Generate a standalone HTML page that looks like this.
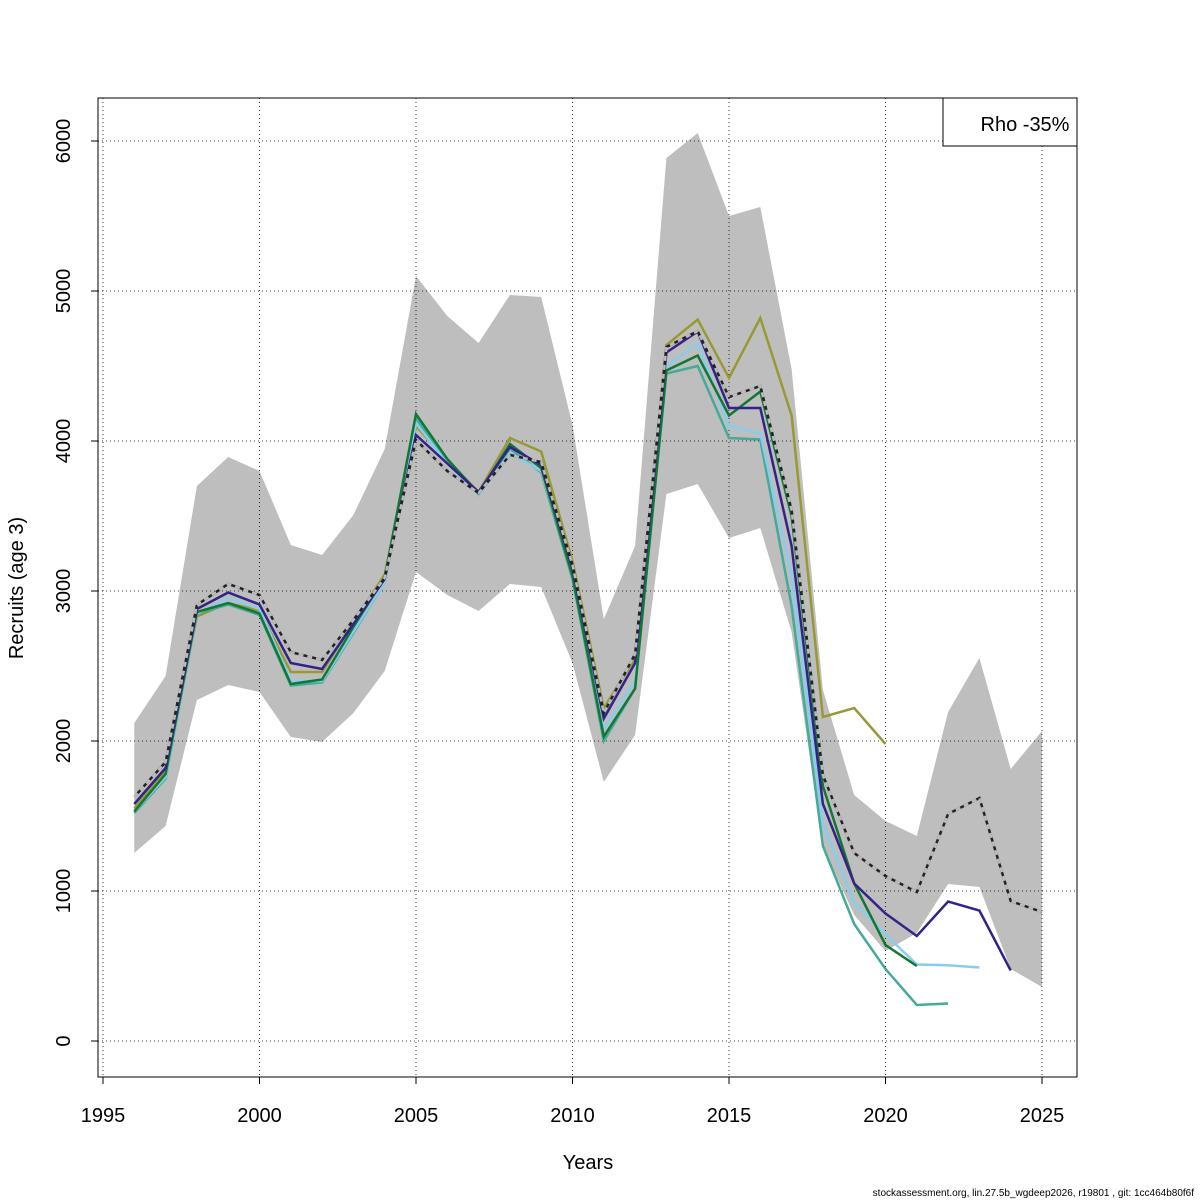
<!DOCTYPE html>
<html><head><meta charset="utf-8"><style>body{margin:0;background:#fff}svg{display:block;font-family:"Liberation Sans",sans-serif}</style></head>
<body>
<svg id="chart" width="1200" height="1200" xmlns="http://www.w3.org/2000/svg">
<rect width="1200" height="1200" fill="#fff"/>
<g id="band"></g>
<g id="grid"></g>
<g id="lines"></g>
<rect x="98" y="98" width="979" height="979" fill="none" stroke="#000" stroke-width="1"/>
<g id="axes"></g>
<text x="588" y="1169" font-size="20" text-anchor="middle">Years</text>
<text transform="translate(23,588) rotate(-90)" font-size="20" text-anchor="middle">Recruits (age 3)</text>
<g>
<rect x="943" y="98" width="134" height="48" fill="#fff" stroke="#000"/>
<text x="1025" y="131" font-size="20" text-anchor="middle">Rho -35%</text>
</g>
<text x="1194" y="1196" font-size="10" text-anchor="end">stockassessment.org, lin.27.5b_wgdeep2026, r19801 , git: 1cc464b80f6f</text>
</svg>
<script>
const years = [1996,1997,1998,1999,2000,2001,2002,2003,2004,2005,2006,2007,2008,2009,2010,2011,2012,2013,2014,2015,2016,2017,2018,2019,2020,2021,2022,2023,2024,2025];
const upper = [2120,2433,3700,3893,3800,3307,3240,3507,3947,5100,4833,4653,4973,4960,4107,2813,3300,5887,6053,5500,5560,4480,2340,1640,1467,1367,2193,2553,1813,2067];
const lower = [1253,1433,2273,2373,2327,2027,1993,2187,2467,3127,2973,2867,3047,3027,2520,1727,2040,3647,3713,3353,3420,2727,1293,840,600,720,1047,1027,480,360];
const estimate = [1627,1860,2907,3047,2973,2593,2540,2807,3087,4007,3800,3653,3907,3860,3173,2187,2580,4627,4733,4293,4367,3540,1773,1253,1100,993,1513,1620,933,860];
const peel1 = [1580,1820,2880,2990,2910,2520,2480,2780,3080,4040,3850,3660,3960,3840,3150,2150,2520,4590,4730,4220,4220,3300,1580,1050,850,700,930,870,470];
const peel2 = [1530,1760,2850,2950,2880,2400,2400,2730,3060,4120,3850,3640,3920,3800,3120,2080,2400,4500,4650,4100,4050,3100,1450,920,710,510,505,490];
const peel3 = [1520,1750,2850,2910,2840,2370,2390,2720,3060,4150,3860,3640,3950,3790,3080,2000,2350,4450,4500,4020,4010,2900,1300,780,480,240,250];
const peel4 = [1530,1780,2860,2920,2850,2380,2410,2760,3090,4180,3880,3650,3980,3820,3100,2030,2350,4470,4570,4170,4330,3500,1700,1050,640,500];
const peel5 = [1550,1800,2830,2920,2870,2460,2460,2790,3110,4100,3870,3660,4020,3930,3200,2220,2550,4640,4810,4420,4820,4170,2160,2220,1980];
const xTicks = [1995,2000,2005,2010,2015,2020,2025];
const yTicks = [0,1000,2000,3000,4000,5000,6000];

const NS="http://www.w3.org/2000/svg";
const X = y => 103 + (y-1995)*(939/30);
const Y = v => 1041 - v*0.15;
function mk(tag, parent){const e=document.createElementNS(NS,tag);document.getElementById(parent).appendChild(e);return e;}

let pts = years.map((y,i)=>X(y)+","+Y(upper[i]));
for(let i=years.length-1;i>=0;i--) pts.push(X(years[i])+","+Y(lower[i]));
const poly = mk('polygon','band');
poly.setAttribute('points', pts.join(' '));
poly.setAttribute('fill','#bebebe');



xTicks.forEach(t=>{
  const l=mk('line','grid');
  l.setAttribute('x1',X(t));l.setAttribute('x2',X(t));l.setAttribute('y1',98);l.setAttribute('y2',1077);
  l.setAttribute('stroke','#000');l.setAttribute('stroke-dasharray','1,3');l.setAttribute('stroke-width','0.8');
  
  
  const k=mk('line','axes');
  k.setAttribute('x1',X(t));k.setAttribute('x2',X(t));k.setAttribute('y1',1077);k.setAttribute('y2',1084);k.setAttribute('stroke','#000');
  
  
  const tx=mk('text','axes');
  tx.setAttribute('x',X(t));tx.setAttribute('y',1122);tx.setAttribute('font-size','20');tx.setAttribute('text-anchor','middle');
  tx.textContent=t;
  
  
});
yTicks.forEach(t=>{
  const l=mk('line','grid');
  l.setAttribute('x1',98);l.setAttribute('x2',1077);l.setAttribute('y1',Y(t));l.setAttribute('y2',Y(t));
  l.setAttribute('stroke','#000');l.setAttribute('stroke-dasharray','1,3');l.setAttribute('stroke-width','0.8');
  
  
  const k=mk('line','axes');
  k.setAttribute('x1',91);k.setAttribute('x2',98);k.setAttribute('y1',Y(t));k.setAttribute('y2',Y(t));k.setAttribute('stroke','#000');
  
  
  const tx=mk('text','axes');
  tx.setAttribute('transform','translate(70,'+Y(t)+') rotate(-90)');tx.setAttribute('font-size','20');tx.setAttribute('text-anchor','middle');
  tx.textContent=t;
  
  
});

function line(vals,color,name,dash){
  const p=mk('polyline','lines');
  p.setAttribute('points',vals.map((v,i)=>X(years[i])+","+Y(v)).join(' '));
  p.setAttribute('fill','none');p.setAttribute('stroke',color);p.setAttribute('stroke-width','2.5');
  if(dash) p.setAttribute('stroke-dasharray',dash);
  
  
}
line(peel5,'#999933','peel-5-line');
line(peel3,'#44aa99','peel-3-line');
line(peel2,'#88ccee','peel-2-line');
line(peel4,'#117733','peel-4-line');
line(peel1,'#332288','peel-1-line');
line(estimate,'#222222','estimate-base-line');
line(estimate,'#bbbbbb','estimate-dash-line','5,4');
</script>
</body></html>
